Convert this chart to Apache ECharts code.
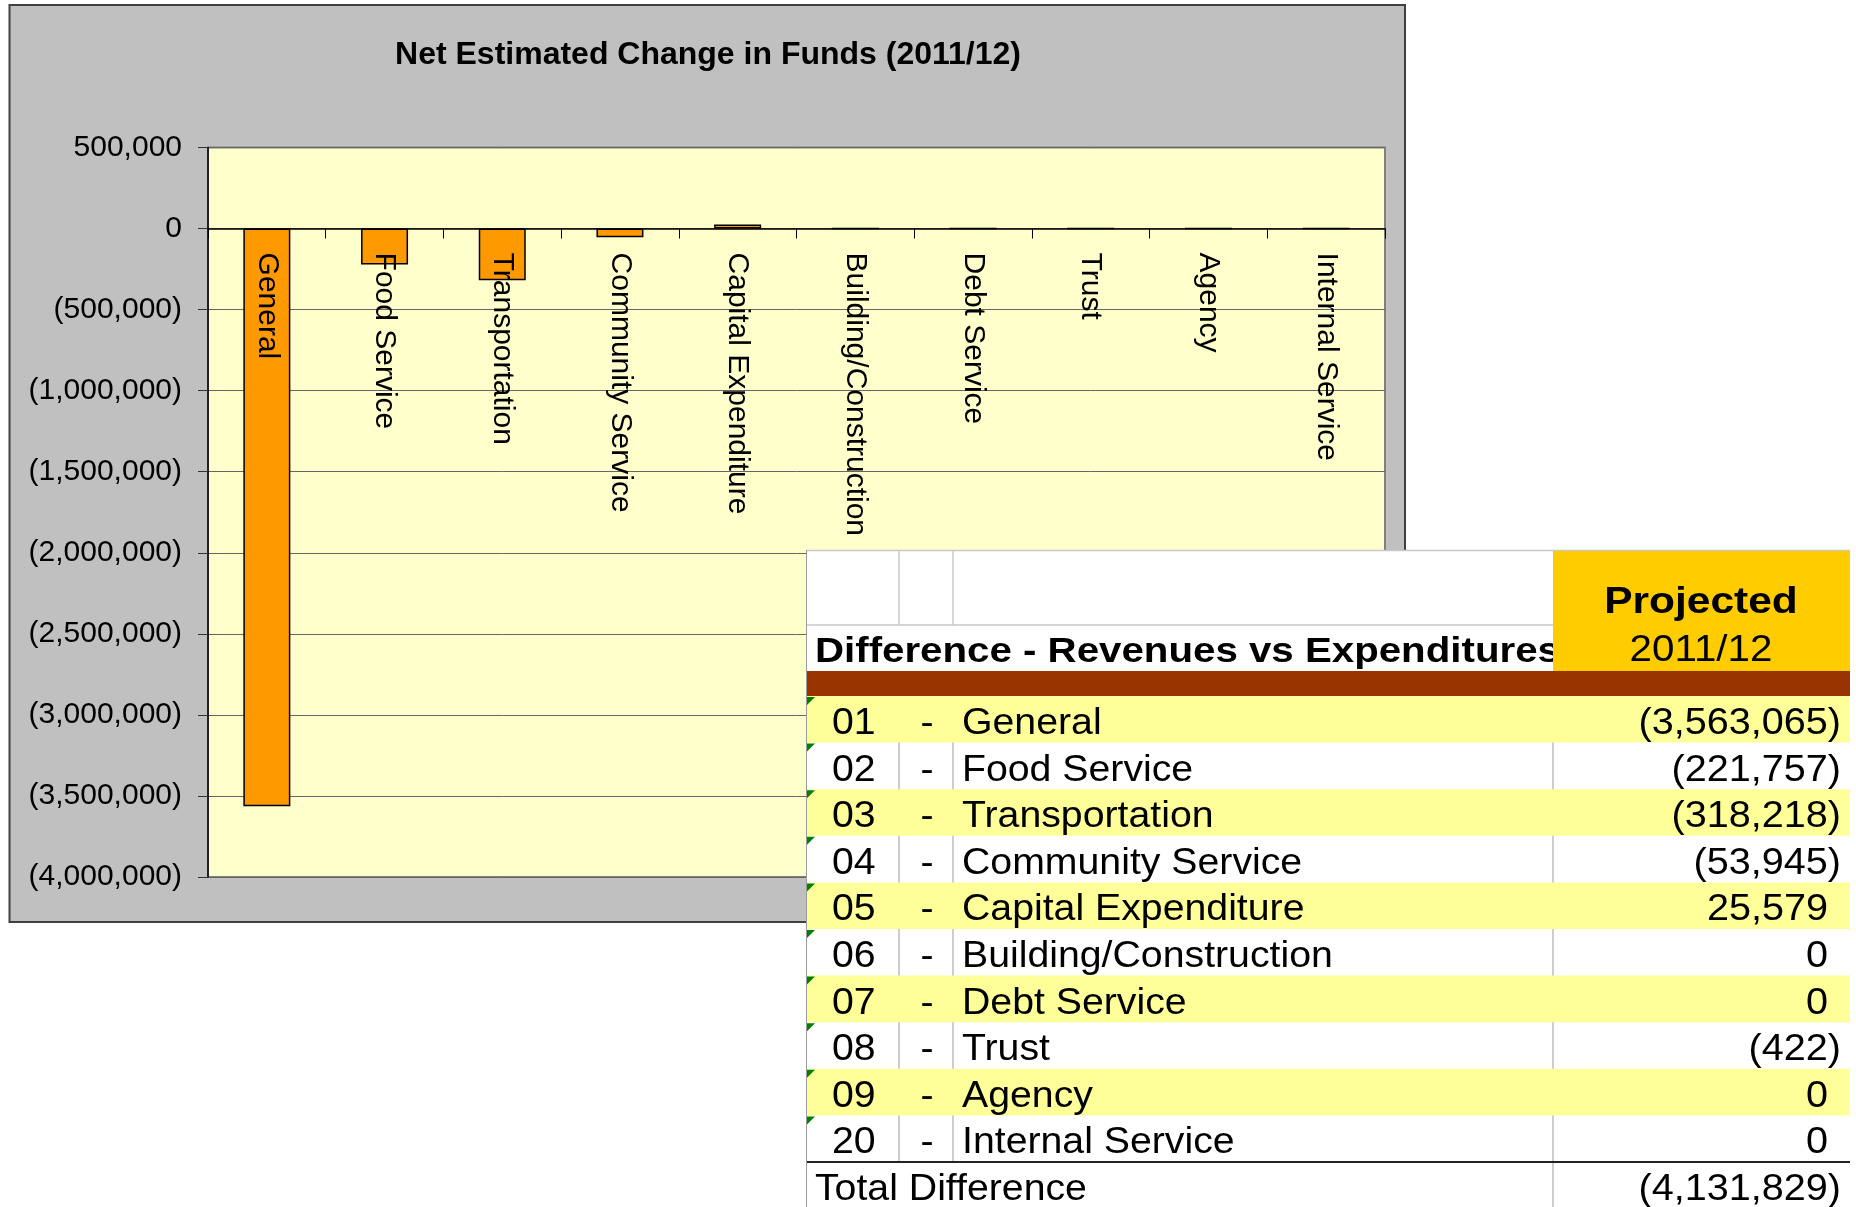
<!DOCTYPE html>
<html>
<head>
<meta charset="utf-8">
<title>Net Estimated Change in Funds (2011/12)</title>
<script src="https://cdn.jsdelivr.net/npm/echarts@6/dist/echarts.min.js"></script>
<style>
  html, body { margin: 0; padding: 0; background: #fff; }
  #chart { width: 1856px; height: 1207px; }
</style>
</head>
<body>
<div id="chart"></div>
<script>
  // values (chart + the table pasted over it)
  var fundCodes = ['01', '02', '03', '04', '05', '06', '07', '08', '09', '20'];
  var fundNames = ['General', 'Food Service', 'Transportation', 'Community Service', 'Capital Expenditure',
                   'Building/Construction', 'Debt Service', 'Trust', 'Agency', 'Internal Service'];
  var netChange = [-3563065, -221757, -318218, -53945, 25579, 0, 0, -422, 0, 0];
  var totalDifference = -4131829;

  var yMin = -4000000;
  var yMax = 500000;
  var yStep = 500000;

  var chartTitle = 'Net Estimated Change in Funds (2011/12)';
  var tableTitle = 'Difference - Revenues vs Expenditures';
  var columnHead = ['Projected', '2011/12'];
  var totalLabel = 'Total Difference';

  var FONT = '"Liberation Sans", Arial, sans-serif';
  var PLOT_H = 729.5;

  // excel accounting style: negatives in brackets
  function acct(v) {
    var s = Math.abs(v).toLocaleString('en-US');
    return v < 0 ? '(' + s + ')' : s;
  }

  function buildTable() {
    var L = 806, R = 1850, TOP = 550, H1 = 625, H2 = 671, BAND = 696, RH = 46.6;
    var C1 = 899, C2 = 953, C3 = 1553, BOTTOM = 1207;
    var g = [];

    function rect(x, y, w, h, fill, z) {
      g.push({type: 'rect', z: z, silent: true, shape: {x: x, y: y, width: w, height: h}, style: {fill: fill}});
    }
    function line(x1, y1, x2, y2, color, w) {
      g.push({type: 'line', z: 102, silent: true, shape: {x1: x1, y1: y1, x2: x2, y2: y2},
        style: {stroke: color, lineWidth: w}});
    }
    function text(str, x, y, size, opt) {
      opt = opt || {};
      g.push({
        type: 'text', z: opt.z || 105, silent: true, x: x, y: y, scaleX: opt.sx || 1.09,
        style: {
          text: str, fill: '#000', fontFamily: FONT, fontSize: size,
          fontWeight: opt.bold ? 'bold' : 'normal',
          align: opt.align || 'left', verticalAlign: 'middle'
        }
      });
    }

    // white sheet over the chart
    rect(L, TOP, R - L, BOTTOM - TOP, '#ffffff', 100);

    // header
    line(L, TOP + 0.5, R, TOP + 0.5, '#c8c8c8', 1.5);
    line(C1, TOP, C1, H1, '#c8c8c8', 1.5);
    line(C2, TOP, C2, H1, '#c8c8c8', 1.5);
    line(L, H1, C3, H1, '#c8c8c8', 1.5);
    text(tableTitle, 815, 652, 35, {bold: true, sx: 1.15, z: 103});
    rect(C3, TOP + 1, R - C3, H2 - TOP - 1, '#FFCC00', 104);
    text(columnHead[0], 1701, 603, 36, {bold: true, align: 'center', sx: 1.18});
    text(columnHead[1], 1701, 651, 36, {align: 'center', sx: 1.12});
    rect(L, H2, R - L, BAND - H2, '#993300', 101);

    // fund rows
    for (var i = 0; i < fundCodes.length; i++) {
      var y0 = BAND + i * RH;
      if (i % 2 === 0) {
        rect(L, y0, R - L, RH, '#FFFF99', 101);
      } else {
        line(C1, y0, C1, y0 + RH, '#bdbdbd', 1.5);
        line(C2, y0, C2, y0 + RH, '#bdbdbd', 1.5);
        line(C3, y0, C3, y0 + RH, '#bdbdbd', 1.5);
      }
      g.push({type: 'polygon', z: 105, silent: true,
        shape: {points: [[L + 1, y0 + 1], [L + 9, y0 + 1], [L + 1, y0 + 9]]}, style: {fill: '#008000'}});
      var yc = y0 + 28;
      text(fundCodes[i], 832, yc, 36);
      text('-', 927, yc, 36, {align: 'center'});
      text(fundNames[i], 962, yc, 36);
      text(acct(netChange[i]), netChange[i] < 0 ? 1841 : 1828, yc, 36, {align: 'right', sx: 1.1});
    }

    // total
    var yt = BAND + fundCodes.length * RH;
    line(L, yt, R, yt, '#222', 2);
    line(C3, yt + 1, C3, BOTTOM, '#bdbdbd', 1.5);
    text(totalLabel, 815, yt + 28, 36);
    text(acct(totalDifference), 1841, yt + 28, 36, {align: 'right', sx: 1.1});

    line(L + 0.5, TOP, L + 0.5, BOTTOM, '#9a9a9a', 1);
    return g;
  }

  var chart = echarts.init(document.getElementById('chart'));

  chart.setOption({
    animation: false,
    backgroundColor: '#ffffff',
    title: {
      text: chartTitle,
      left: 708,
      top: 39,
      textAlign: 'center',
      padding: 0,
      textStyle: {fontFamily: FONT, fontSize: 32, fontWeight: 'bold', color: '#000'}
    },
    grid: {
      left: 208,
      top: 147.5,
      width: 1177,
      height: PLOT_H,
      show: true,
      backgroundColor: '#FFFFCC',
      borderColor: '#808080',
      borderWidth: 2
    },
    xAxis: {
      type: 'category',
      data: fundNames,
      z: 5,
      // category axis sits on the zero line, labels hang below it
      offset: -PLOT_H * (0 - yMin) / (yMax - yMin),
      axisLine: {onZero: false, lineStyle: {color: '#000', width: 1.5}},
      axisTick: {show: true, interval: 0, length: 10, lineStyle: {color: '#000'}},
      axisLabel: {
        interval: 0,
        rotate: -90,
        margin: 24,
        color: '#000',
        fontFamily: FONT,
        fontSize: 30
      },
      splitLine: {show: false}
    },
    yAxis: {
      type: 'value',
      min: yMin,
      max: yMax,
      interval: yStep,
      axisLine: {show: true, lineStyle: {color: '#000', width: 1.5}},
      axisTick: {show: true, length: 10, lineStyle: {color: '#333'}},
      axisLabel: {
        margin: 26,
        color: '#000',
        fontFamily: FONT,
        fontSize: 30,
        formatter: function (v) { return acct(v); }
      },
      splitLine: {show: true, lineStyle: {color: '#666', width: 1}}
    },
    series: [
      {
        type: 'bar',
        data: netChange,
        barWidth: 47,
        itemStyle: {color: '#FF9900', borderColor: '#000', borderWidth: 1.5}
      }
    ],
    graphic: {
      elements: [
        {
          type: 'rect', z: -10, silent: true,
          shape: {x: 9.5, y: 5, width: 1395.5, height: 917},
          style: {fill: '#C0C0C0', stroke: '#404040', lineWidth: 2}
        }
      ].concat(buildTable())
    }
  });
</script>
</body>
</html>
